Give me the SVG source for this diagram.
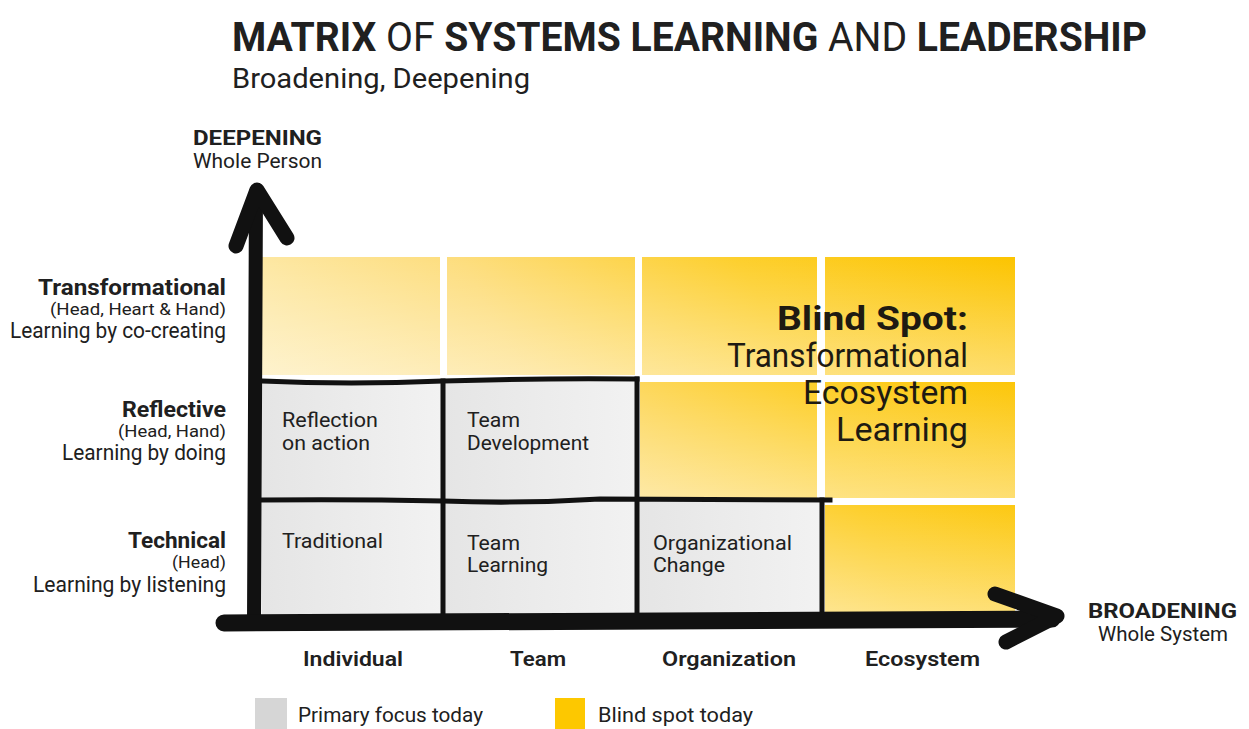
<svg xmlns="http://www.w3.org/2000/svg" width="1249" height="729" viewBox="0 0 1249 729">
  <defs>
    <!-- warm field: pale at lower left, saturated at upper right -->
    <linearGradient id="warm" gradientUnits="userSpaceOnUse" x1="262" y1="613" x2="1015" y2="257">
      <stop offset="0" stop-color="#fdf0c2"/>
      <stop offset="0.4" stop-color="#fddd7c"/>
      <stop offset="0.7" stop-color="#fdcf2c"/>
      <stop offset="1" stop-color="#fcc400"/>
    </linearGradient>
    <!-- each tile fades toward its lower edge -->
    <linearGradient id="fade" x1="0" y1="0" x2="0" y2="1">
      <stop offset="0" stop-color="#ffffff" stop-opacity="0"/>
      <stop offset="1" stop-color="#ffffff" stop-opacity="0.4"/>
    </linearGradient>
    <linearGradient id="grey" x1="0" y1="0" x2="1" y2="0">
      <stop offset="0" stop-color="#e5e5e5"/>
      <stop offset="1" stop-color="#f2f2f2"/>
    </linearGradient>
    <style>
      text { font-family: Roboto, "Liberation Sans", sans-serif; fill: #202020; }
      .b { font-weight: 700; }
      .title { font-size: 40px; }
      .sub { font-size: 28px; }
      .axis { font-size: 20px; }
      .row { font-size: 22px; text-anchor: end; }
      .paren { font-size: 17px; text-anchor: end; }
      .cell { font-size: 21px; }
      .spot { font-size: 34px; text-anchor: end; fill: #1e1a12; }
      .col { font-size: 21px; font-weight: 600; }
      .legend { font-size: 21px; }
      .warm { fill: url(#warm); }
      .fade { fill: url(#fade); }
      .focus { fill: url(#grey); }
      .rule { fill: none; stroke: #111; stroke-width: 5; stroke-linecap: square; }
      .axisline { fill: none; stroke: #111; stroke-linecap: round; stroke-linejoin: round; }
    </style>
  </defs>

  <rect width="1249" height="729" fill="#ffffff"/>

  <!-- heading -->
  <g id="heading">
    <text class="title" x="232" y="51" textLength="915" lengthAdjust="spacingAndGlyphs"><tspan class="b">MATRIX</tspan> OF <tspan class="b">SYSTEMS LEARNING</tspan> AND <tspan class="b">LEADERSHIP</tspan></text>
    <text class="sub" x="232" y="88" textLength="298" lengthAdjust="spacingAndGlyphs">Broadening, Deepening</text>
  </g>

  <!-- blind-spot tiles -->
  <g id="blind-spot-tiles">
    <g id="tile-individual-transformational"><rect class="warm" x="262" y="257" width="178" height="118"/><rect class="fade" x="262" y="257" width="178" height="118"/></g>
    <g id="tile-team-transformational"><rect class="warm" x="447" y="257" width="188" height="118"/><rect class="fade" x="447" y="257" width="188" height="118"/></g>
    <g id="tile-organization-transformational"><rect class="warm" x="642" y="257" width="175" height="118"/><rect class="fade" x="642" y="257" width="175" height="118"/></g>
    <g id="tile-ecosystem-transformational"><rect class="warm" x="825" y="257" width="190" height="118"/><rect class="fade" x="825" y="257" width="190" height="118"/></g>
    <g id="tile-organization-reflective"><rect class="warm" x="640" y="382" width="177" height="116"/><rect class="fade" x="640" y="382" width="177" height="116"/></g>
    <g id="tile-ecosystem-reflective"><rect class="warm" x="825" y="382" width="190" height="116"/><rect class="fade" x="825" y="382" width="190" height="116"/></g>
    <g id="tile-ecosystem-technical"><rect class="warm" x="825" y="505" width="190" height="108"/><rect class="fade" x="825" y="505" width="190" height="108"/></g>
  </g>

  <!-- primary-focus tiles -->
  <g id="reflection-on-action">
    <rect class="focus" x="262" y="380" width="181" height="120"/>
    <text class="cell" x="282" y="427" textLength="96" lengthAdjust="spacingAndGlyphs">Reflection</text>
    <text class="cell" x="282" y="450" textLength="88" lengthAdjust="spacingAndGlyphs">on action</text>
  </g>
  <g id="team-development">
    <rect class="focus" x="443" y="380" width="194" height="120"/>
    <text class="cell" x="467" y="427" textLength="53" lengthAdjust="spacingAndGlyphs">Team</text>
    <text class="cell" x="467" y="450" textLength="122" lengthAdjust="spacingAndGlyphs">Development</text>
  </g>
  <g id="traditional">
    <rect class="focus" x="262" y="500" width="181" height="114"/>
    <text class="cell" x="282" y="548" textLength="101" lengthAdjust="spacingAndGlyphs">Traditional</text>
  </g>
  <g id="team-learning">
    <rect class="focus" x="443" y="500" width="194" height="114"/>
    <text class="cell" x="467" y="550" textLength="53" lengthAdjust="spacingAndGlyphs">Team</text>
    <text class="cell" x="467" y="572" textLength="81" lengthAdjust="spacingAndGlyphs">Learning</text>
  </g>
  <g id="organizational-change">
    <rect class="focus" x="637" y="500" width="185" height="114"/>
    <text class="cell" x="653" y="550" textLength="139" lengthAdjust="spacingAndGlyphs">Organizational</text>
    <text class="cell" x="653" y="572" textLength="72" lengthAdjust="spacingAndGlyphs">Change</text>
  </g>

  <!-- hand-drawn borders of the focus area -->
  <g id="focus-borders">
    <path class="rule" d="M262 381 Q 350 385 443 381 Q 540 378 637 379"/>
    <path class="rule" d="M262 500 Q 350 499 443 501 Q 520 504 600 499 L 830 500"/>
    <path class="rule" d="M443 381 L 443 614"/>
    <path class="rule" d="M637 379 L 637 614"/>
    <path class="rule" d="M822 500 L 822 614"/>
  </g>

  <!-- blind-spot caption -->
  <g id="blind-spot-caption">
    <text class="spot b" x="968" y="330" textLength="191" lengthAdjust="spacingAndGlyphs">Blind Spot:</text>
    <text class="spot" x="968" y="367" textLength="241" lengthAdjust="spacingAndGlyphs">Transformational</text>
    <text class="spot" x="968" y="404" textLength="165" lengthAdjust="spacingAndGlyphs">Ecosystem</text>
    <text class="spot" x="968" y="441" textLength="132" lengthAdjust="spacingAndGlyphs">Learning</text>
  </g>

  <!-- axes -->
  <g id="connectors">
    <path class="axisline" stroke-width="14" d="M254 622 L 256 192"/>
    <path class="axisline" stroke-width="15" d="M236 246 L 257 190 L 287 238"/>
    <path class="axisline" stroke-width="17" d="M224 623 L 1052 619"/>
    <path class="axisline" stroke-width="15" d="M995 594 L 1057 616 L 1006 642"/>
  </g>

  <!-- axis titles -->
  <g id="deepening-axis-label">
    <text class="axis b" x="193" y="145" textLength="129" lengthAdjust="spacingAndGlyphs">DEEPENING</text>
    <text class="axis" x="193" y="168" textLength="129" lengthAdjust="spacingAndGlyphs">Whole Person</text>
  </g>
  <g id="broadening-axis-label">
    <text class="axis b" x="1088" y="618" textLength="149" lengthAdjust="spacingAndGlyphs">BROADENING</text>
    <text class="axis" x="1098" y="641" textLength="130" lengthAdjust="spacingAndGlyphs">Whole System</text>
  </g>

  <!-- depth levels -->
  <g id="level-transformational">
    <text class="row b" x="226" y="295" textLength="188" lengthAdjust="spacingAndGlyphs">Transformational</text>
    <text class="paren" x="226" y="315" textLength="176" lengthAdjust="spacingAndGlyphs">(Head, Heart &amp; Hand)</text>
    <text class="row" x="226" y="338" textLength="216" lengthAdjust="spacingAndGlyphs">Learning by co-creating</text>
  </g>
  <g id="level-reflective">
    <text class="row b" x="226" y="417" textLength="104" lengthAdjust="spacingAndGlyphs">Reflective</text>
    <text class="paren" x="226" y="437" textLength="108" lengthAdjust="spacingAndGlyphs">(Head, Hand)</text>
    <text class="row" x="226" y="460" textLength="164" lengthAdjust="spacingAndGlyphs">Learning by doing</text>
  </g>
  <g id="level-technical">
    <text class="row b" x="226" y="548" textLength="98" lengthAdjust="spacingAndGlyphs">Technical</text>
    <text class="paren" x="226" y="568" textLength="54" lengthAdjust="spacingAndGlyphs">(Head)</text>
    <text class="row" x="226" y="592" textLength="193" lengthAdjust="spacingAndGlyphs">Learning by listening</text>
  </g>

  <!-- breadth levels -->
  <g id="scope-labels">
    <text class="col" x="303" y="666" textLength="100" lengthAdjust="spacingAndGlyphs">Individual</text>
    <text class="col" x="510" y="666" textLength="56" lengthAdjust="spacingAndGlyphs">Team</text>
    <text class="col" x="662" y="666" textLength="134" lengthAdjust="spacingAndGlyphs">Organization</text>
    <text class="col" x="865" y="666" textLength="115" lengthAdjust="spacingAndGlyphs">Ecosystem</text>
  </g>

  <!-- legend -->
  <g id="legend-primary">
    <rect x="255" y="698" width="32" height="31" fill="#d6d6d6"/>
    <text class="legend" x="298" y="722" textLength="185" lengthAdjust="spacingAndGlyphs">Primary focus today</text>
  </g>
  <g id="legend-blind">
    <rect x="555" y="698" width="30" height="31" fill="#fdc800"/>
    <text class="legend" x="598" y="722" textLength="155" lengthAdjust="spacingAndGlyphs">Blind spot today</text>
  </g>
</svg>
